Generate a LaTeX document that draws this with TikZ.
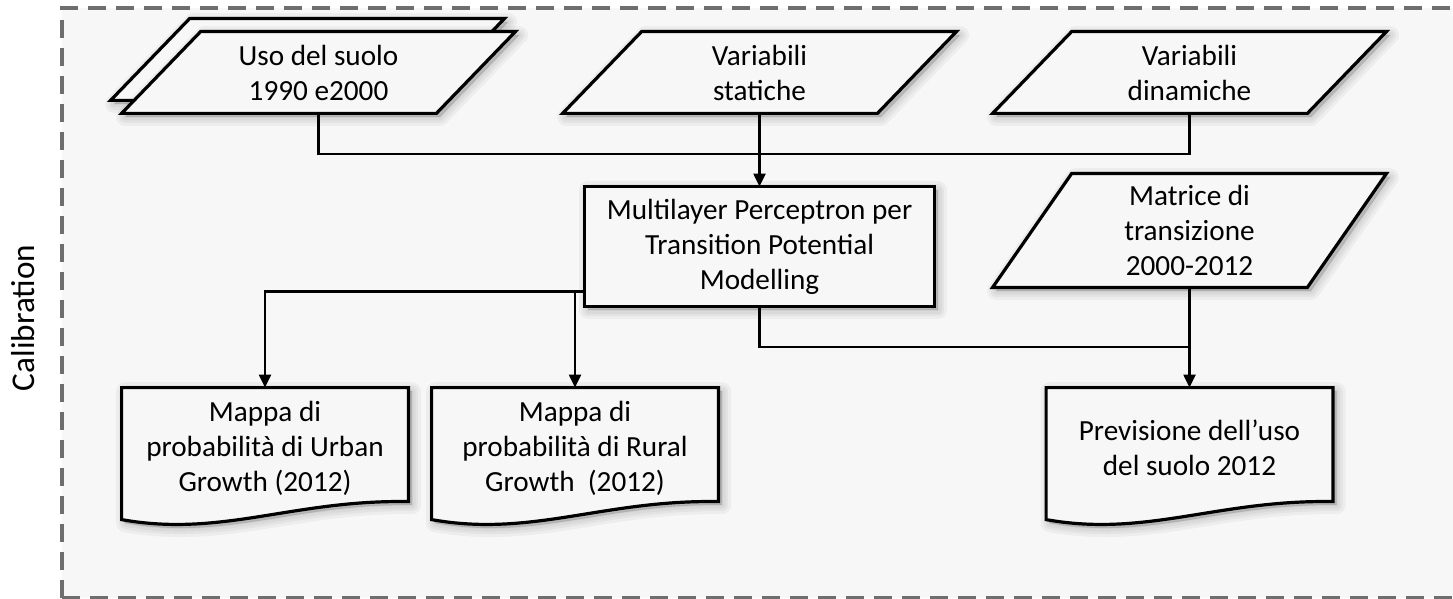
\documentclass[tikz,border=0pt]{standalone}
\usepackage{fontspec}
\setmainfont{Carlito}
\usetikzlibrary{calc,arrows.meta}
\pgfdeclarelayer{panellayer}
\pgfdeclarelayer{shapelayer}
\pgfsetlayers{panellayer,shapelayer,main}
\definecolor{panel}{HTML}{F7F7F7}
\definecolor{dashgray}{HTML}{6E6E6E}
\tikzset{
  label text/.style={font=\fontsize{14.6}{17.5}\selectfont, align=center, inner sep=0pt, text=black},
  shadowstep/.style={preaction={draw=black, fill=black, opacity=0.04, line width=#1, line join=round,
    transform canvas={xshift=1.8pt, yshift=-1.8pt}}},
  softshadow/.style={shadowstep=9pt, shadowstep=6pt, shadowstep=3.5pt, shadowstep=1pt},
  outline/.style={softshadow, draw=black, line width=1.6pt, fill=panel, line join=miter},
  iobox/.style={label text, minimum width=196.5pt, minimum height=40.5pt},
  docbox/.style={label text, minimum width=143pt, minimum height=60pt},
  conn/.style={draw=black, line width=1.1pt, line join=miter},
  arrow/.style={conn, -{Triangle[length=6.5pt,width=6pt]}},
  frame/.style={draw=dashgray, line width=2pt, dash pattern=on 9pt off 5pt}
}
\begin{document}
\begin{tikzpicture}[x=0.5pt,y=-0.5pt]
\useasboundingbox (0,0) rectangle (1453,599);

% dashed panel
\begin{pgfonlayer}{panellayer}
  \fill[panel] (62,8) rectangle (1470,598);
  \draw[frame] (62,598) -- (62,8) -- (1470,8);
  \draw[frame] (62,598) -- (1470,598);
\end{pgfonlayer}

\node[label text, font=\fontsize{16.6}{19}\selectfont, rotate=90] (calib) at (23,318) {Calibration};

% data inputs (parallelograms)
\node[iobox] (p1) at (318.5,72.5) {Uso del suolo\\1990 e2000};
\node[iobox] (p2) at (759.5,72.5) {Variabili\\statiche};
\node[iobox] (p3) at (1189.5,72.5) {Variabili\\dinamiche};
\node[label text, minimum width=196.5pt, minimum height=56.5pt] (mat) at (1189.5,230.5) {Matrice di\\transizione\\2000-2012};

% process
\node[label text, minimum width=174.5pt, minimum height=59.5pt] (mlp) at (759.5,246.5)
  {Multilayer Perceptron per\\Transition Potential\\Modelling};

% output documents
\node[docbox] (urban) at (265,448) {Mappa di\\probabilità di Urban\\Growth (2012)};
\node[docbox] (rural) at (575,448) {Mappa di\\probabilità di Rural\\Growth\ \ (2012)};
\node[docbox] (prev) at (1189.5,448) {Previsione dell’uso\\del suolo 2012};

\begin{pgfonlayer}{shapelayer}
  % stacked input: back sheet first
  \path[outline] ($(p1.south west)+(-11,-13)$) -- ($(p1.north west)+(68,-13)$) -- ($(p1.north east)+(-11,-13)$)
    -- ($(p1.south east)+(-90,-13)$) -- cycle;
  \foreach \n in {p1,p2,p3,mat}{
    \path[outline] (\n.south west) -- ($(\n.north west)+(79,0)$) -- (\n.north east)
      -- ($(\n.south east)+(-79,0)$) -- cycle;
  }
  \path[outline] (mlp.south west) rectangle (mlp.north east);
  \foreach \n in {urban,rural,prev}{
    \path[outline] (\n.north west) -- (\n.north east) -- ($(\n.north east)+(0,114)$)
      .. controls ($(\n.north west)+(171.6,112)$) and ($(\n.north west)+(100.1,150)$)
      .. ($(\n.north west)+(0,132)$) -- cycle;
  }
\end{pgfonlayer}

% connectors
\coordinate (j1) at (759.5,154);
\draw[conn] (p1.south) |- (j1) -| (p3.south);
\draw[arrow] (p2.south) -- (mlp.north);
\coordinate (m1) at ([yshift=7.5pt]mlp.south west);
\draw[arrow] (m1) -| (urban.north);
\draw[arrow] (m1 -| rural.north) -- (rural.north);
\coordinate (j2) at (1189.5,347);
\draw[conn] (mlp.south) |- (j2);
\draw[arrow] (mat.south) -- (prev.north);
\end{tikzpicture}
\end{document}
